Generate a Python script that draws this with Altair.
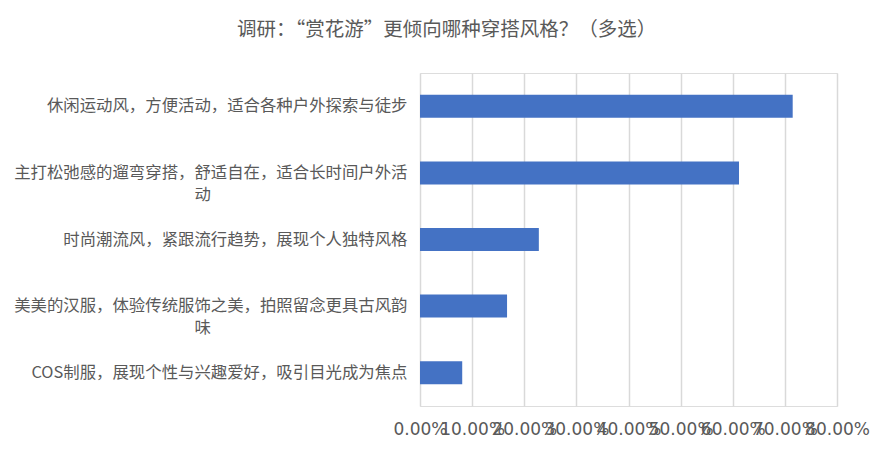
import altair as alt
import pandas as pd

categories = [
    "休闲运动风，方便活动，适合各种户外探索与徒步",
    "主打松弛感的遛弯穿搭，舒适自在，适合长时间户外活\n动",
    "时尚潮流风，紧跟流行趋势，展现个人独特风格",
    "美美的汉服，体验传统服饰之美，拍照留念更具古风韵\n味",
    "COS制服，展现个性与兴趣爱好，吸引目光成为焦点",
]
values = [0.715, 0.612, 0.228, 0.167, 0.081]
tick_values = [0.0, 0.1, 0.2, 0.3, 0.4, 0.5, 0.6, 0.7, 0.8]
title_text = "调研：“赏花游”更倾向哪种穿搭风格？（多选）"

df = pd.DataFrame({"cat": categories, "val": values})

# wrapped second line is centred under the first, as in the reference
label_expr = (
    "length(split(datum.label, '\\n')) > 1 ? "
    "[split(datum.label, '\\n')[0], pad(split(datum.label, '\\n')[1], 13, '\u3000') + '\u200b'] "
    ": datum.label"
)

chart = (
    alt.Chart(df)
    .mark_bar(color="#4472C4", size=23)
    .encode(
        x=alt.X(
            "val:Q",
            scale=alt.Scale(domain=[0, 0.8], nice=False),
            axis=alt.Axis(
                values=tick_values,
                format=".2%",
                title=None,
                grid=True,
                gridColor="#d9d9d9",
                gridWidth=1.5,
                ticks=False,
                tickSize=0,
                domain=False,
                labelFont="DejaVu Sans",
                labelFontSize=17,
                labelColor="#595959",
                labelPadding=15,
                labelOverlap=False,
                labelFlush=False,
            ),
        ),
        y=alt.Y(
            "cat:N",
            sort=None,
            axis=alt.Axis(
                title=None,
                grid=False,
                ticks=False,
                tickSize=0,
                domain=False,
                labelExpr=label_expr,
                labelAlign="right",
                labelBaseline="middle",
                labelPadding=13,
                labelFont="Noto Sans CJK SC",
                labelFontSize=16.4,
                labelColor="#595959",
                labelLineHeight=22,
                labelLimit=600,
            ),
        ),
    )
    .properties(
        width=417,
        height=333,
        autosize=alt.AutoSizeParams(type="none"),
        padding={"left": 412, "top": 65, "right": 40, "bottom": 35},
        title=alt.TitleParams(
            text=title_text,
            font="Noto Sans CJK SC",
            fontSize=19.5,
            fontWeight="normal",
            color="#595959",
            anchor="middle",
            frame="group",
            dx=-182,
            offset=33,
        ),
    )
    .configure_view(stroke=None)
    .configure(background="white")
)

chart.save("out.html", embed_options={"renderer": "svg", "actions": False})
